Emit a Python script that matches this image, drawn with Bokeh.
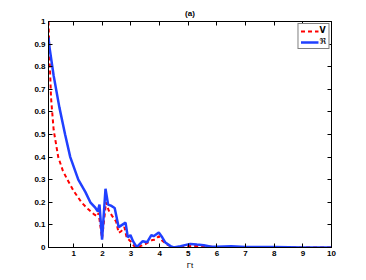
from bokeh.plotting import figure
from bokeh.models import Range1d, LinearAxis, FixedTicker, Legend, LegendItem, CustomJSTickFormatter
from bokeh.embed import file_html
from bokeh.resources import INLINE

# V (red dashed)
t_v = [0.12, 0.16, 0.21, 0.30, 0.46, 0.62, 0.78, 1.0, 1.27, 1.5, 1.70, 1.82, 1.87, 1.99, 2.13, 2.22,
       2.34, 2.48, 2.57, 2.66, 2.77, 2.85, 2.98, 3.07, 3.15, 3.3, 3.5, 3.74, 3.85, 3.97, 4.09, 4.26,
       4.49, 4.8, 5.07, 5.54, 6.0, 7.0, 8.0, 10.0]
v_vals = [1.0, 0.83, 0.66, 0.52, 0.40, 0.34, 0.30, 0.25, 0.20, 0.17, 0.148, 0.138, 0.153, 0.04, 0.20, 0.165,
          0.14, 0.115, 0.065, 0.072, 0.09, 0.043, 0.028, 0.013, 0.0, 0.005, 0.015, 0.033, 0.035, 0.05, 0.03, 0.013,
          0.0, 0.003, 0.007, 0.006, 0.001, 0.001, 0.0, 0.0]

# R (blue solid)
t_r = [0.12, 0.15, 0.3, 0.5, 0.7, 0.88, 1.16, 1.41, 1.58, 1.76, 1.84, 1.90, 1.99, 2.11, 2.20, 2.30,
       2.43, 2.57, 2.69, 2.81, 2.89, 2.98, 3.07, 3.19, 3.27, 3.41, 3.56, 3.71, 3.79, 3.97, 4.09, 4.2,
       4.38, 4.49, 4.73, 5.07, 5.3, 5.54, 5.8, 6.0, 6.5, 7.0, 8.0, 9.0, 10.0]
r_vals = [0.93, 0.89, 0.76, 0.62, 0.50, 0.40, 0.30, 0.245, 0.20, 0.175, 0.16, 0.19, 0.035, 0.26, 0.19, 0.185,
          0.175, 0.09, 0.10, 0.11, 0.045, 0.055, 0.028, 0.004, 0.01, 0.028, 0.023, 0.055, 0.05, 0.066, 0.045, 0.022,
          0.006, 0.0, 0.006, 0.016, 0.013, 0.01, 0.003, 0.003, 0.006, 0.002, 0.002, 0.0, 0.0]

x_ticks = [1, 2, 3, 4, 5, 6, 7, 8, 9, 10]
y_ticks = [0, 0.1, 0.2, 0.3, 0.4, 0.5, 0.6, 0.7, 0.8, 0.9, 1.0]

p = figure(width=358, height=272, output_backend="svg", toolbar_location=None,
           x_range=Range1d(0.12, 10), y_range=Range1d(0, 1),
           min_border_left=48, min_border_right=27, min_border_top=21, min_border_bottom=24,
           title="(a)")
p.title.align = "center"
p.title.text_font = "Liberation Sans"
p.title.text_font_size = "8px"
p.title.text_font_style = "bold"
p.title.text_color = "black"
p.title.standoff = 7
p.grid.visible = False
p.outline_line_color = "black"
p.outline_line_width = 1
p.background_fill_color = "white"
p.border_fill_color = "white"

fmt = CustomJSTickFormatter(code="return String(Math.round(tick*10)/10);")
blank = CustomJSTickFormatter(code="return '';")

def style(ax, ticks, labels=True):
    ax.ticker = FixedTicker(ticks=ticks)
    ax.major_tick_in = 4
    ax.major_tick_out = 0
    ax.minor_tick_in = 0
    ax.minor_tick_out = 0
    ax.axis_line_color = "black"
    ax.major_tick_line_color = "black"
    ax.major_label_text_font = "Liberation Sans"
    ax.major_label_text_font_style = "bold"
    ax.major_label_text_font_size = "8px"
    ax.major_label_text_color = "black"
    ax.major_label_standoff = 3 if labels else 0
    ax.formatter = fmt if labels else blank

xa = p.xaxis[0]
style(xa, x_ticks)
xa.axis_label = "Γt"
xa.axis_label_text_font = "Liberation Sans"
xa.axis_label_text_font_style = "normal"
xa.axis_label_text_font_size = "8px"
xa.axis_label_text_color = "black"
xa.axis_label_standoff = 2

ya = p.yaxis[0]
style(ya, y_ticks)

top = LinearAxis()
style(top, x_ticks, labels=False)
p.add_layout(top, "above")
right = LinearAxis()
style(right, y_ticks, labels=False)
p.add_layout(right, "right")

r1 = p.line(t_v, v_vals, line_color="#ff0000", line_width=2, line_dash="4 3")
r2 = p.line(t_r, r_vals, line_color="#2040ff", line_width=2.5)

legend = Legend(items=[LegendItem(label="V", renderers=[r1]), LegendItem(label="ℜ", renderers=[r2])],
                location="top_right", label_text_font="DejaVu Sans", label_text_font_size="8px",
                label_text_font_style="bold", label_text_color="black", glyph_width=18, glyph_height=8,
                label_width=6, label_height=8, spacing=2, padding=2, margin=2, border_line_color="black",
                border_line_width=1, label_standoff=1, background_fill_alpha=1)
p.add_layout(legend)

open("out.html", "w").write(file_html(p, INLINE))
